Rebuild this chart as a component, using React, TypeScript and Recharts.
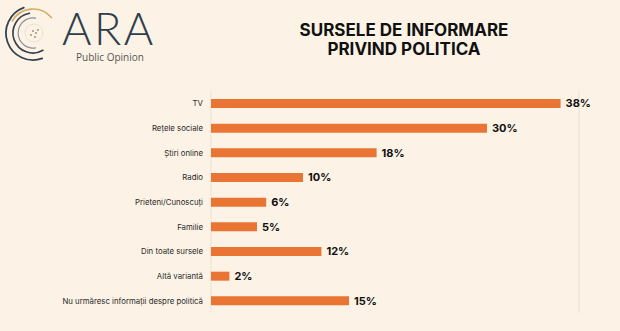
import { Bar, BarChart, CartesianGrid, LabelList, XAxis, YAxis } from 'recharts';

const categories = [
  'TV',
  'Rețele sociale',
  'Știri online',
  'Radio',
  'Prieteni/Cunoscuți',
  'Familie',
  'Din toate sursele',
  'Altă variantă',
  'Nu urmăresc informații despre politică',
];
const values = [38, 30, 18, 10, 6, 5, 12, 2, 15];
const xTicks = [0, 5, 10, 15, 20, 25, 30, 35, 40];
const titleLines = ['SURSELE DE INFORMARE', 'PRIVIND POLITICA'];

const data = categories.map((name, i) => ({ name, value: values[i] }));

const BG = '#fcf3e6';
const BAR = '#ea7434';
const FONT = 'Inter, "Liberation Sans", sans-serif';

function Logo() {
  return (
    <>
      <svg width={70} height={70} style={{ position: 'absolute', left: 0, top: 0 }}>
        <g fill="none" strokeLinecap="round">
          <path d="M 23.8 7.6 A 27 27 0 1 0 42.2 58.4" stroke="#33424f" strokeWidth={1.8} />
          <path d="M 12.2 21 A 24 24 0 0 1 51.4 17.6" stroke="#d4ad62" strokeWidth={1.6} />
          <path d="M 29.5 13.3 A 20 20 0 1 0 43 50.3" stroke="#33424f" strokeWidth={1.6} />
          <path d="M 35.6 18.2 A 15 15 0 1 0 35.6 47.8" stroke="#8a9099" strokeWidth={1.2} />
          <circle cx={34} cy={33} r={9} stroke="#e6dccb" strokeWidth={0.8} />
        </g>
        <g fill="#9a8a6a">
          <circle cx={33} cy={31} r={0.9} />
          <circle cx={36} cy={33} r={0.9} />
          <circle cx={31} cy={35} r={0.9} />
          <circle cx={35} cy={37} r={0.9} />
          <circle cx={38} cy={30} r={0.9} />
        </g>
      </svg>
      <div
        style={{
          position: 'absolute',
          left: 62,
          top: 11,
          fontFamily: 'Lato, sans-serif',
          fontWeight: 300,
          fontSize: 45,
          lineHeight: '34px',
          letterSpacing: 2.5,
          color: '#2f3e4c',
          whiteSpace: 'nowrap',
        }}
      >
        ARA
      </div>
      <div
        style={{
          position: 'absolute',
          left: 76,
          top: 52,
          fontFamily: "'Open Sans', sans-serif",
          fontSize: 10,
          lineHeight: '10px',
          color: '#555',
          whiteSpace: 'nowrap',
        }}
      >
        Public Opinion
      </div>
    </>
  );
}

function CategoryTick(props: any) {
  const { x, y, payload } = props;
  return (
    <text x={x} y={y} dy={3} textAnchor="end" fontSize={7.8} fontFamily={FONT} fill="#2a2a2a">
      {payload.value}
    </text>
  );
}

export default function App() {
  return (
    <div
      style={{
        position: 'absolute',
        left: 0,
        top: 0,
        width: 620,
        height: 331,
        background: BG,
        fontFamily: FONT,
      }}
    >
      <Logo />
      <div
        style={{
          position: 'absolute',
          left: 254,
          top: 21,
          width: 300,
          textAlign: 'center',
          fontWeight: 700,
          fontSize: 17,
          lineHeight: '19px',
          color: '#111',
          whiteSpace: 'nowrap',
        }}
      >
        {titleLines.map((l) => (
          <div key={l}>{l}</div>
        ))}
      </div>
      <div style={{ position: 'absolute', left: 0, top: 0 }}>
        <BarChart
          width={620}
          height={331}
          data={data}
          layout="vertical"
          margin={{ top: 91, right: 41, bottom: 18, left: 0 }}
        >
          <CartesianGrid horizontal={false} stroke="#ece2d3" strokeWidth={1} />
          <XAxis
            type="number"
            domain={[0, 40]}
            ticks={xTicks}
            tick={false}
            axisLine={false}
            tickLine={false}
            height={0}
          />
          <YAxis
            type="category"
            dataKey="name"
            width={211}
            axisLine={false}
            tickLine={false}
            interval={0}
            tick={<CategoryTick />}
          />
          <Bar dataKey="value" fill={BAR} barSize={9} isAnimationActive={false}>
            <LabelList
              dataKey="value"
              position="right"
              offset={5}
              formatter={(v: number) => `${v}%`}
              style={{ fill: '#111', fontSize: 11, fontWeight: 700, fontFamily: FONT }}
            />
          </Bar>
        </BarChart>
      </div>
    </div>
  );
}
